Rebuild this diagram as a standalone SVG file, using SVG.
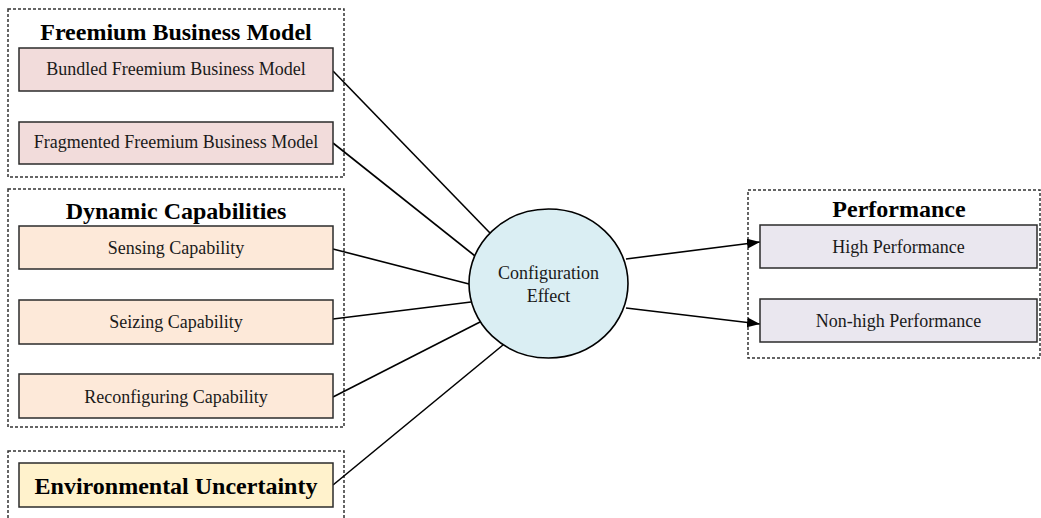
<svg xmlns="http://www.w3.org/2000/svg" width="1041" height="518" viewBox="0 0 1041 518">
<style>
.grp{fill:none;stroke:#333;stroke-width:1.5;stroke-dasharray:3 2}
.box{stroke:#2b2b2b;stroke-width:1.5}
.fm{fill:#F2DCDB}
.dc{fill:#FDE9D9}
.eu{fill:#FFF2CC}
.pf{fill:#EAE7EF}
.lbl{font-family:"Liberation Serif","Times New Roman",serif;font-size:18px;fill:#1a1a1a;text-anchor:middle}
.ttl{font-family:"Liberation Serif","Times New Roman",serif;font-size:24px;font-weight:bold;fill:#000;text-anchor:middle}
.con{stroke:#000;stroke-width:1.6;fill:none}
</style>
<defs>
<marker id="arr" markerWidth="13" markerHeight="10" refX="13" refY="5" orient="auto" markerUnits="userSpaceOnUse">
<path d="M0,0 L13,5 L0,10 Z" fill="#000"/>
</marker>
</defs>
<g id="group-freemium">
<rect class="grp" x="8" y="9" width="336" height="168"/>
<text class="ttl" x="176" y="40">Freemium Business Model</text>
</g>
<g id="group-dynamic">
<rect class="grp" x="8" y="189" width="336" height="238"/>
<text class="ttl" x="176" y="219">Dynamic Capabilities</text>
</g>
<g id="group-env">
<rect class="grp" x="8" y="451" width="336" height="80"/>
</g>
<g id="group-performance">
<rect class="grp" x="748" y="190" width="292" height="168"/>
<text class="ttl" x="899" y="217">Performance</text>
</g>
<g id="connectors">
<line class="con" x1="333" y1="71" x2="490" y2="233"/>
<line class="con" x1="333" y1="143" x2="475" y2="256"/>
<line class="con" x1="333" y1="249" x2="469" y2="284"/>
<line class="con" x1="333" y1="319" x2="471" y2="302"/>
<line class="con" x1="333" y1="397" x2="480" y2="322"/>
<line class="con" x1="333" y1="485" x2="503" y2="345"/>
<line class="con" x1="626" y1="259" x2="760" y2="242" marker-end="url(#arr)"/>
<line class="con" x1="626" y1="308" x2="760" y2="324" marker-end="url(#arr)"/>
</g>
<g id="node-bundled">
<rect class="box fm" x="19" y="48" width="314" height="43"/>
<text class="lbl" x="176" y="75">Bundled Freemium Business Model</text>
</g>
<g id="node-fragmented">
<rect class="box fm" x="19" y="122" width="314" height="42"/>
<text class="lbl" x="176" y="148">Fragmented Freemium Business Model</text>
</g>
<g id="node-sensing">
<rect class="box dc" x="19" y="226" width="314" height="43"/>
<text class="lbl" x="176" y="254">Sensing Capability</text>
</g>
<g id="node-seizing">
<rect class="box dc" x="19" y="300" width="314" height="44"/>
<text class="lbl" x="176" y="328">Seizing Capability</text>
</g>
<g id="node-reconfiguring">
<rect class="box dc" x="19" y="374" width="314" height="44"/>
<text class="lbl" x="176" y="403">Reconfiguring Capability</text>
</g>
<g id="node-environmental">
<rect class="box eu" x="19" y="463" width="314" height="44"/>
<text class="ttl" x="176" y="494">Environmental Uncertainty</text>
</g>
<g id="node-configuration">
<ellipse cx="548.5" cy="283.5" rx="79.5" ry="74.5" fill="#DAEEF3" stroke="#000" stroke-width="1.6"/>
<text class="lbl" x="548.5" y="279">Configuration</text>
<text class="lbl" x="548.5" y="302">Effect</text>
</g>
<g id="node-high">
<rect class="box pf" x="760" y="225" width="277" height="43"/>
<text class="lbl" x="898.5" y="253">High Performance</text>
</g>
<g id="node-nonhigh">
<rect class="box pf" x="760" y="299" width="277" height="43"/>
<text class="lbl" x="898.5" y="327">Non-high Performance</text>
</g>
</svg>
